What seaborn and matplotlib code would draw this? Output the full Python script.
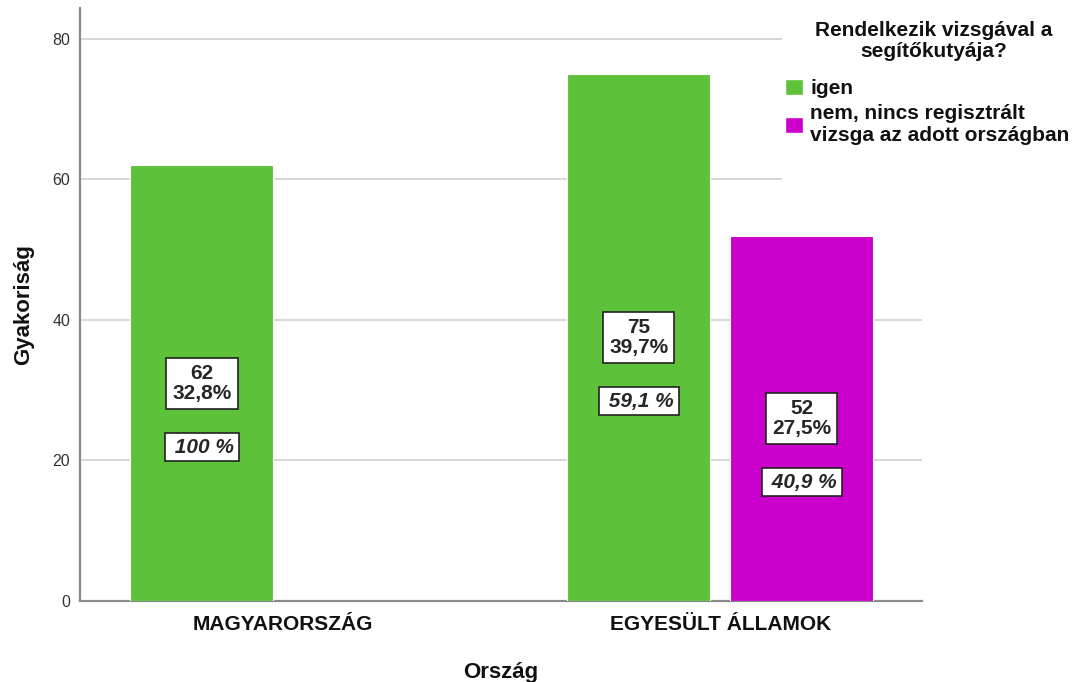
import matplotlib
matplotlib.use("Agg")
import matplotlib.pyplot as plt
import seaborn as sns
import pandas as pd
from matplotlib.patches import Patch, Rectangle

# ---- data ----
countries = ["MAGYARORSZÁG", "EGYESÜLT ÁLLAMOK"]
answers = ["igen", "nem, nincs regisztrált\nvizsga az adott országban"]
row_country = ["MAGYARORSZÁG", "EGYESÜLT ÁLLAMOK", "EGYESÜLT ÁLLAMOK"]
row_answer = ["igen", "igen", "nem, nincs regisztrált\nvizsga az adott országban"]
counts = [62, 75, 52]
total_pct = ["32,8%", "39,7%", "27,5%"]
country_pct = ["100 %", "59,1 %", "40,9 %"]
yticks = [0, 20, 40, 60, 80]
legend_title = "Rendelkezik vizsgával a\nsegítőkutyája?"
colors = ["#5DC23A", "#CC00CC"]

df = pd.DataFrame({"Ország": row_country, "answer": row_answer, "count": counts})

sns.set_theme(style="white")
plt.rcParams["font.family"] = ["Liberation Sans", "DejaVu Sans"]

fig = plt.figure(figsize=(10.86, 6.82), dpi=100)
ax = fig.add_axes([80 / 1086, 1 - 601 / 682, (922 - 80) / 1086, (601 - 8) / 682])

sns.barplot(data=df, x="Ország", y="count", hue="answer", order=countries,
            hue_order=answers, palette=colors, width=0.746, gap=0.123,
            edgecolor="white", linewidth=0.8, saturation=1, errorbar=None,
            ax=ax, legend=False, zorder=3)

ax.set_xlim(-0.465, 1.462)
ax.set_ylim(0, 84.4)
ax.set_yticks(yticks)
ax.set_yticklabels([str(t) for t in yticks], fontsize=11.5, color="#333333")
ax.yaxis.grid(True, color="#d4d4d4", linewidth=1.3, zorder=0)
ax.set_axisbelow(True)
ax.tick_params(axis="both", length=0)
ax.tick_params(axis="y", pad=7)
ax.tick_params(axis="x", pad=10)
for lab in ax.get_xticklabels():
    lab.set_fontweight("bold")
    lab.set_fontsize(15)
    lab.set_color("#111111")
for side in ["top", "right"]:
    ax.spines[side].set_visible(False)
for side in ["left", "bottom"]:
    ax.spines[side].set_color("#8a8a8a")
    ax.spines[side].set_linewidth(1.6)

ax.set_xlabel("Ország", fontsize=16, fontweight="bold", labelpad=20, color="#111111")
ax.set_ylabel("Gyakoriság", fontsize=16, fontweight="bold", labelpad=13, color="#111111")

# ---- labels inside bars ----
box1 = dict(boxstyle="square,pad=0.3", fc="white", ec="#222222", lw=1.2)
box2 = dict(boxstyle="square,pad=0.22", fc="white", ec="#222222", lw=1.2)
for hi, cont in enumerate(ax.containers):
    for bar in cont:
        h = bar.get_height()
        if not h or h != h:
            continue
        xc = bar.get_x() + bar.get_width() / 2
        ci = int(round(xc))
        for i in range(len(counts)):
            if row_country[i] == countries[ci] and row_answer[i] == answers[hi]:
                ax.annotate(f"{counts[i]}\n{total_pct[i]}", (xc, h / 2),
                            ha="center", va="center", fontsize=15,
                            fontweight="bold", bbox=box1, zorder=5,
                            linespacing=1.05)
                ax.annotate(" " + country_pct[i], (xc, h / 2), xytext=(0, -46),
                            textcoords="offset points", ha="center", va="center",
                            fontsize=15, fontweight="bold", fontstyle="italic",
                            bbox=box2, zorder=5)

# ---- legend area (white panel over the grid, title, entries) ----
fig.add_artist(Rectangle((782 / 1086, 1 - 190 / 682), 304 / 1086, 190 / 682,
                         transform=fig.transFigure, fc="white", ec="none", zorder=2))
fig.text(934 / 1086, 1 - 41 / 682, legend_title, ha="center", va="center",
         multialignment="center", fontsize=15, fontweight="bold",
         linespacing=1.15, color="#111111", zorder=3)

handles = [Patch(facecolor=c, edgecolor="white") for c in colors]
leg = fig.legend(handles, answers, loc="upper left",
                 bbox_to_anchor=(785 / 1086, 1 - 79 / 682), frameon=False,
                 handlelength=0.87, handleheight=0.8,
                 handletextpad=0.33, labelspacing=0.3, borderpad=0.0,
                 borderaxespad=0.0,
                 prop={"weight": "bold", "size": 15})
leg.set_zorder(3)
for t in leg.get_texts():
    t.set_linespacing(1.15)
    t.set_color("#111111")

fig.savefig("out.png", dpi=100, facecolor="white")
